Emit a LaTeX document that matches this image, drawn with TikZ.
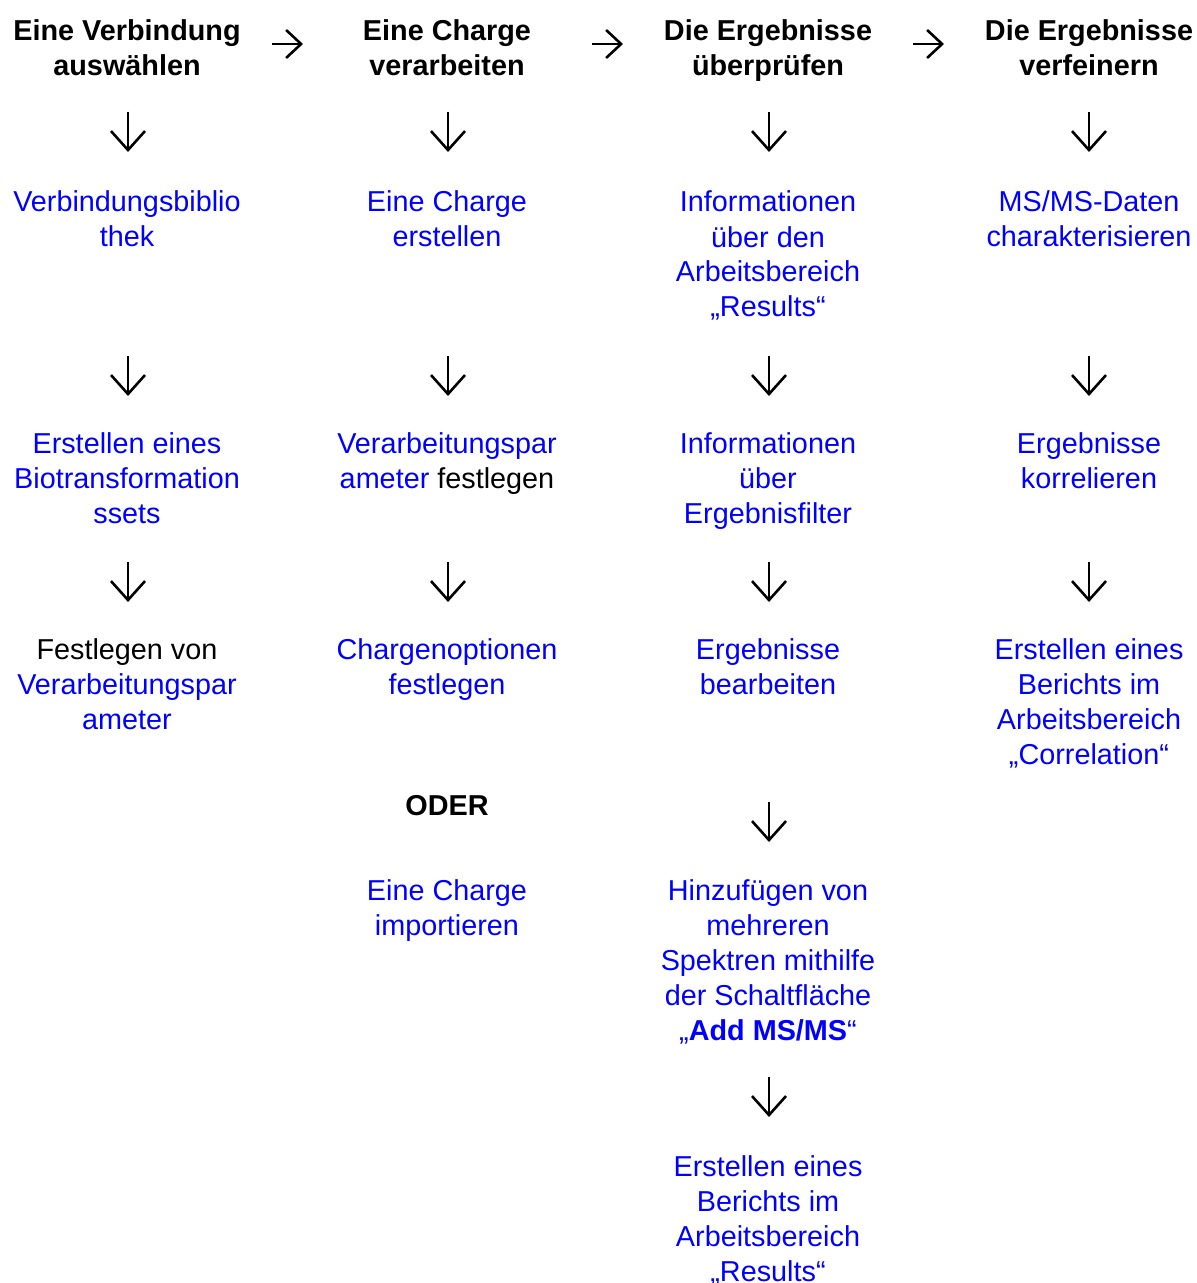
\documentclass[tikz,border=0pt]{standalone}
\usepackage{fontspec}
\setmainfont{Liberation Sans}
\usetikzlibrary{arrows.meta}
\definecolor{linkblue}{RGB}{0,0,255}
\newcommand{\blk}[1]{\textcolor{black}{#1}}

\begin{document}
\begin{tikzpicture}[
        x = 0.5pt, y = -0.5pt, % one unit per pixel, y going down
        > = {Straight Barb[length=9.5pt, width=17pt]}, % arrow head style
        line width = 1.3pt, % thin arrow strokes
        font = \fontsize{14.4}{17.5}\selectfont
    ]

    % nodes sit on the baseline of their last line
    \tikzstyle{cell}=[
        align = center,
        inner sep = 0pt,
        anchor = base,
        text = linkblue
    ]
    \tikzstyle{head}=[cell, text = black, font = \fontsize{14.4}{17.5}\selectfont\bfseries]
    \tikzstyle{down}=[->, draw = black]
    \tikzstyle{next}=[-{Straight Barb[length=7.5pt, width=14pt]}, draw = black]

    \useasboundingbox (0,0) rectangle (1197,1283);

    % column heads
    \node[head] (h1) at (127,76) {Eine Verbindung\\auswählen};
    \node[head] (h2) at (447,76) {Eine Charge\\verarbeiten};
    \node[head] (h3) at (768,76) {Die Ergebnisse\\überprüfen};
    \node[head] (h4) at (1089,76) {Die Ergebnisse\\verfeinern};

    % first column
    \node[cell] (v1) at (127,247) {Verbindungsbiblio\\thek};
    \node[cell] (b1) at (127,523) {Erstellen eines\\Biotransformation\\ssets};
    \node[cell] (f1) at (127,729) {\blk{Festlegen von}\\Verarbeitungspar\\ameter};

    % second column
    \node[cell] (c2) at (447,247) {Eine Charge\\erstellen};
    \node[cell] (p2) at (447,488) {Verarbeitungspar\\ameter \blk{festlegen}};
    \node[cell] (o2) at (447,694) {Chargenoptionen\\festlegen};
    \node[head] (or2) at (447,815) {ODER};
    \node[cell] (i2) at (447,935) {Eine Charge\\importieren};

    % third column
    \node[cell] (r3) at (768,317) {Informationen\\über den\\Arbeitsbereich\\„Results“};
    \node[cell] (e3) at (768,523) {Informationen\\über\\Ergebnisfilter};
    \node[cell] (w3) at (768,694) {Ergebnisse\\bearbeiten};
    \node[cell] (s3) at (768,1040) {Hinzufügen von\\mehreren\\Spektren mithilfe\\der Schaltfläche\\„\textbf{Add MS/MS}“};
    \node[cell] (z3) at (768,1281) {Erstellen eines\\Berichts im\\Arbeitsbereich\\„Results“};

    % fourth column
    \node[cell] (m4) at (1089,247) {MS/MS-Daten\\charakterisieren};
    \node[cell] (k4) at (1089,488) {Ergebnisse\\korrelieren};
    \node[cell] (z4) at (1089,764) {Erstellen eines\\Berichts im\\Arbeitsbereich\\„Correlation“};

    % arrows between the heads
    \foreach \n/\x in {1/272, 2/592, 3/913} {
        \coordinate (r\n s) at (\x,44);
        \coordinate (r\n e) at (\x+31,44);
        \draw[next] (r\n s) -- (r\n e);
    }

    % arrows down each column
    \foreach \c/\x in {1/128, 2/448, 3/769, 4/1089} {
        \foreach \r/\y in {a/132, b/376, c/582} {
            \coordinate (d\c\r s) at (\x,\y-20);
            \coordinate (d\c\r e) at (\x,\y+20);
            \draw[down] (d\c\r s) -- (d\c\r e);
        }
    }
    \foreach \r/\y in {d/822, e/1097} {
        \coordinate (d3\r s) at (769,\y-20);
        \coordinate (d3\r e) at (769,\y+20);
        \draw[down] (d3\r s) -- (d3\r e);
    }

\end{tikzpicture}
\end{document}
